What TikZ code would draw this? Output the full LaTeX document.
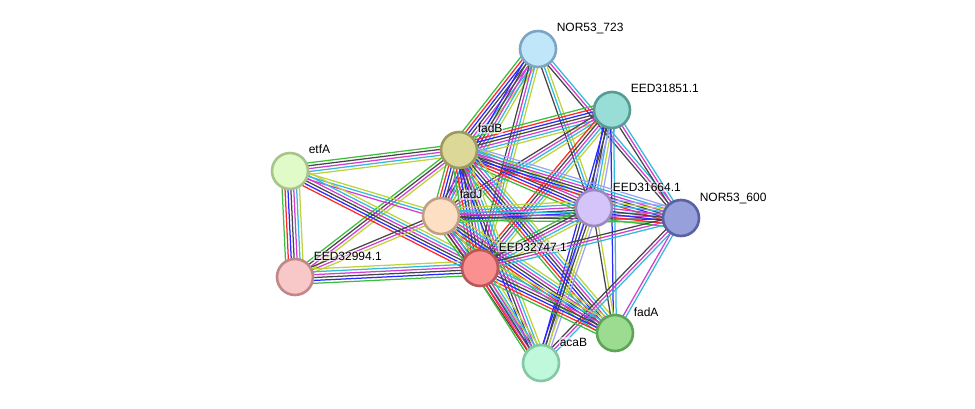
\documentclass[tikz,border=0pt]{standalone}
\usepackage{fontspec}
\setmainfont{Liberation Sans}
\usetikzlibrary{calc,backgrounds}
\definecolor{sgreen}{RGB}{60,190,60}
\definecolor{sred}{RGB}{255,40,40}
\definecolor{sblue}{RGB}{40,40,255}
\definecolor{sblack}{RGB}{70,70,70}
\definecolor{smag}{RGB}{210,60,210}
\definecolor{scyan}{RGB}{50,185,220}
\definecolor{syel}{RGB}{190,210,60}
\definecolor{slav}{RGB}{160,160,250}
\tikzset{
  prot/.style={circle, minimum size=36pt, inner sep=0pt, line width=2.6pt},
  lbl/.style={anchor=base west, font=\fontsize{12}{14}\selectfont, inner sep=0.6pt,
    fill=white, fill opacity=0.55, text opacity=1},
  evline/.style={line width=1.25pt}
}
\newcommand\stredge[3]{%
  \foreach \cc [count=\n] in {#3} {\xdef\strn{\n}}%
  \foreach \cc [count=\i] in {#3} {%
    \pgfmathsetmacro\off{(\i-(\strn+1)/2)*2.9}%
    \draw[evline, color=\cc] ($(#1)!\off pt!90:(#2)$) -- ($(#2)!\off pt!-90:(#1)$);
  }%
}
\begin{document}
\begin{tikzpicture}[x=1pt,y=-1pt]
\useasboundingbox (0,0) rectangle (975,409);
% nodes
\node[prot, fill={rgb,255:red,192;green,230;blue,250}, draw={rgb,255:red,125;green,165;blue,195}] (A) at (538,49) {};
\node[prot, fill={rgb,255:red,152;green,221;blue,214}, draw={rgb,255:red,88;green,155;blue,148}] (B) at (612,110) {};
\node[prot, fill={rgb,255:red,220;green,217;blue,152}, draw={rgb,255:red,158;green,154;blue,94}] (C) at (459,150) {};
\node[prot, fill={rgb,255:red,224;green,250;blue,200}, draw={rgb,255:red,168;green,196;blue,138}] (D) at (290,171) {};
\node[prot, fill={rgb,255:red,253;green,224;blue,196}, draw={rgb,255:red,192;green,160;blue,132}] (E) at (441,216) {};
\node[prot, fill={rgb,255:red,212;green,196;blue,250}, draw={rgb,255:red,154;green,136;blue,192}] (F) at (594,208) {};
\node[prot, fill={rgb,255:red,152;green,160;blue,220}, draw={rgb,255:red,88;green,98;blue,160}] (G) at (681,218) {};
\node[prot, fill={rgb,255:red,248;green,200;blue,200}, draw={rgb,255:red,192;green,136;blue,136}] (H) at (295,277) {};
\node[prot, fill={rgb,255:red,250;green,144;blue,144}, draw={rgb,255:red,184;green,88;blue,88}] (I) at (480,268) {};
\node[prot, fill={rgb,255:red,156;green,220;blue,144}, draw={rgb,255:red,94;green,164;blue,86}] (J) at (615,333) {};
\node[prot, fill={rgb,255:red,192;green,248;blue,220}, draw={rgb,255:red,132;green,200;blue,164}] (K) at (541,363) {};
% edges
\begin{scope}[on background layer]
\stredge{A}{C}{sgreen,sred,sblue,sblack,smag,scyan,syel}
\stredge{A}{E}{sblue,sblack,smag,scyan,syel}
\stredge{A}{I}{sblack,smag,scyan,syel}
\stredge{A}{F}{sblack,scyan,syel}
\stredge{A}{G}{sblack,smag,scyan}
\stredge{B}{C}{sgreen,sred,sblue,sblack,smag,scyan,syel}
\stredge{B}{E}{sblack,smag,scyan,syel}
\stredge{B}{I}{sred,sblack,smag,scyan,syel}
\stredge{B}{F}{sblue,sblack,scyan,syel,slav}
\stredge{B}{J}{sblue,scyan}
\stredge{B}{K}{sblue,sblack,slav}
\stredge{B}{G}{sblack,smag,scyan}
\stredge{C}{D}{sgreen,sblack,smag,scyan,syel}
\stredge{C}{H}{sgreen,sblack,smag,syel}
\stredge{C}{E}{sgreen,sred,sblue,sblack,smag,scyan,syel}
\stredge{C}{I}{sgreen,sred,sblue,sblack,smag,scyan,syel}
\stredge{C}{F}{sgreen,sred,sblue,sblack,smag,scyan,syel}
\stredge{C}{G}{sred,sblue,sblack,smag,scyan,slav}
\stredge{C}{J}{sgreen,sred,sblue,sblack,smag,scyan,syel}
\stredge{C}{K}{sblue,sblack,smag,scyan,syel}
\stredge{D}{H}{sgreen,sred,sblue,sblack,smag,scyan,syel}
\stredge{D}{E}{smag,scyan,syel}
\stredge{D}{I}{sred,sblue,sblack,smag,scyan,syel}
\stredge{E}{H}{sblack,smag,syel}
\stredge{E}{I}{sgreen,sred,sblue,sblack,smag,scyan,syel}
\stredge{E}{F}{sgreen,sblue,sblack,smag,scyan,syel}
\stredge{E}{G}{sgreen,sblack,smag,scyan}
\stredge{E}{J}{sgreen,sred,sblue,sblack,smag,scyan,syel}
\stredge{E}{K}{sblack,smag,scyan,syel}
\stredge{F}{G}{sgreen,sred,sblue,sblack,smag,scyan,syel,slav}
\stredge{F}{I}{sgreen,sblack,smag,scyan,syel}
\stredge{F}{J}{sblack,syel}
\stredge{F}{K}{sblue,sblack,syel,slav}
\stredge{G}{I}{sblack,smag,scyan}
\stredge{G}{J}{smag,scyan}
\stredge{G}{K}{sblack,smag,scyan}
\stredge{H}{I}{sgreen,sblue,sblack,smag,scyan,syel}
\stredge{I}{J}{sgreen,sred,sblue,sblack,smag,scyan,syel}
\stredge{I}{K}{sgreen,sred,sblack,smag,scyan,syel}
\end{scope}
% labels
\node[lbl] (lA) at ($(A)+(18,-17)$) {NOR53\_723};
\node[lbl] (lB) at ($(B)+(18,-17)$) {EED31851.1};
\node[lbl] (lC) at ($(C)+(18,-17)$) {fadB};
\node[lbl] (lD) at ($(D)+(18,-17)$) {etfA};
\node[lbl] (lE) at ($(E)+(18,-17)$) {fadJ};
\node[lbl] (lF) at ($(F)+(18,-17)$) {EED31664.1};
\node[lbl] (lG) at ($(G)+(18,-17)$) {NOR53\_600};
\node[lbl] (lH) at ($(H)+(18,-17)$) {EED32994.1};
\node[lbl] (lI) at ($(I)+(18,-17)$) {EED32747.1};
\node[lbl] (lJ) at ($(J)+(18,-17)$) {fadA};
\node[lbl] (lK) at ($(K)+(18,-17)$) {acaB};
\end{tikzpicture}
\end{document}
